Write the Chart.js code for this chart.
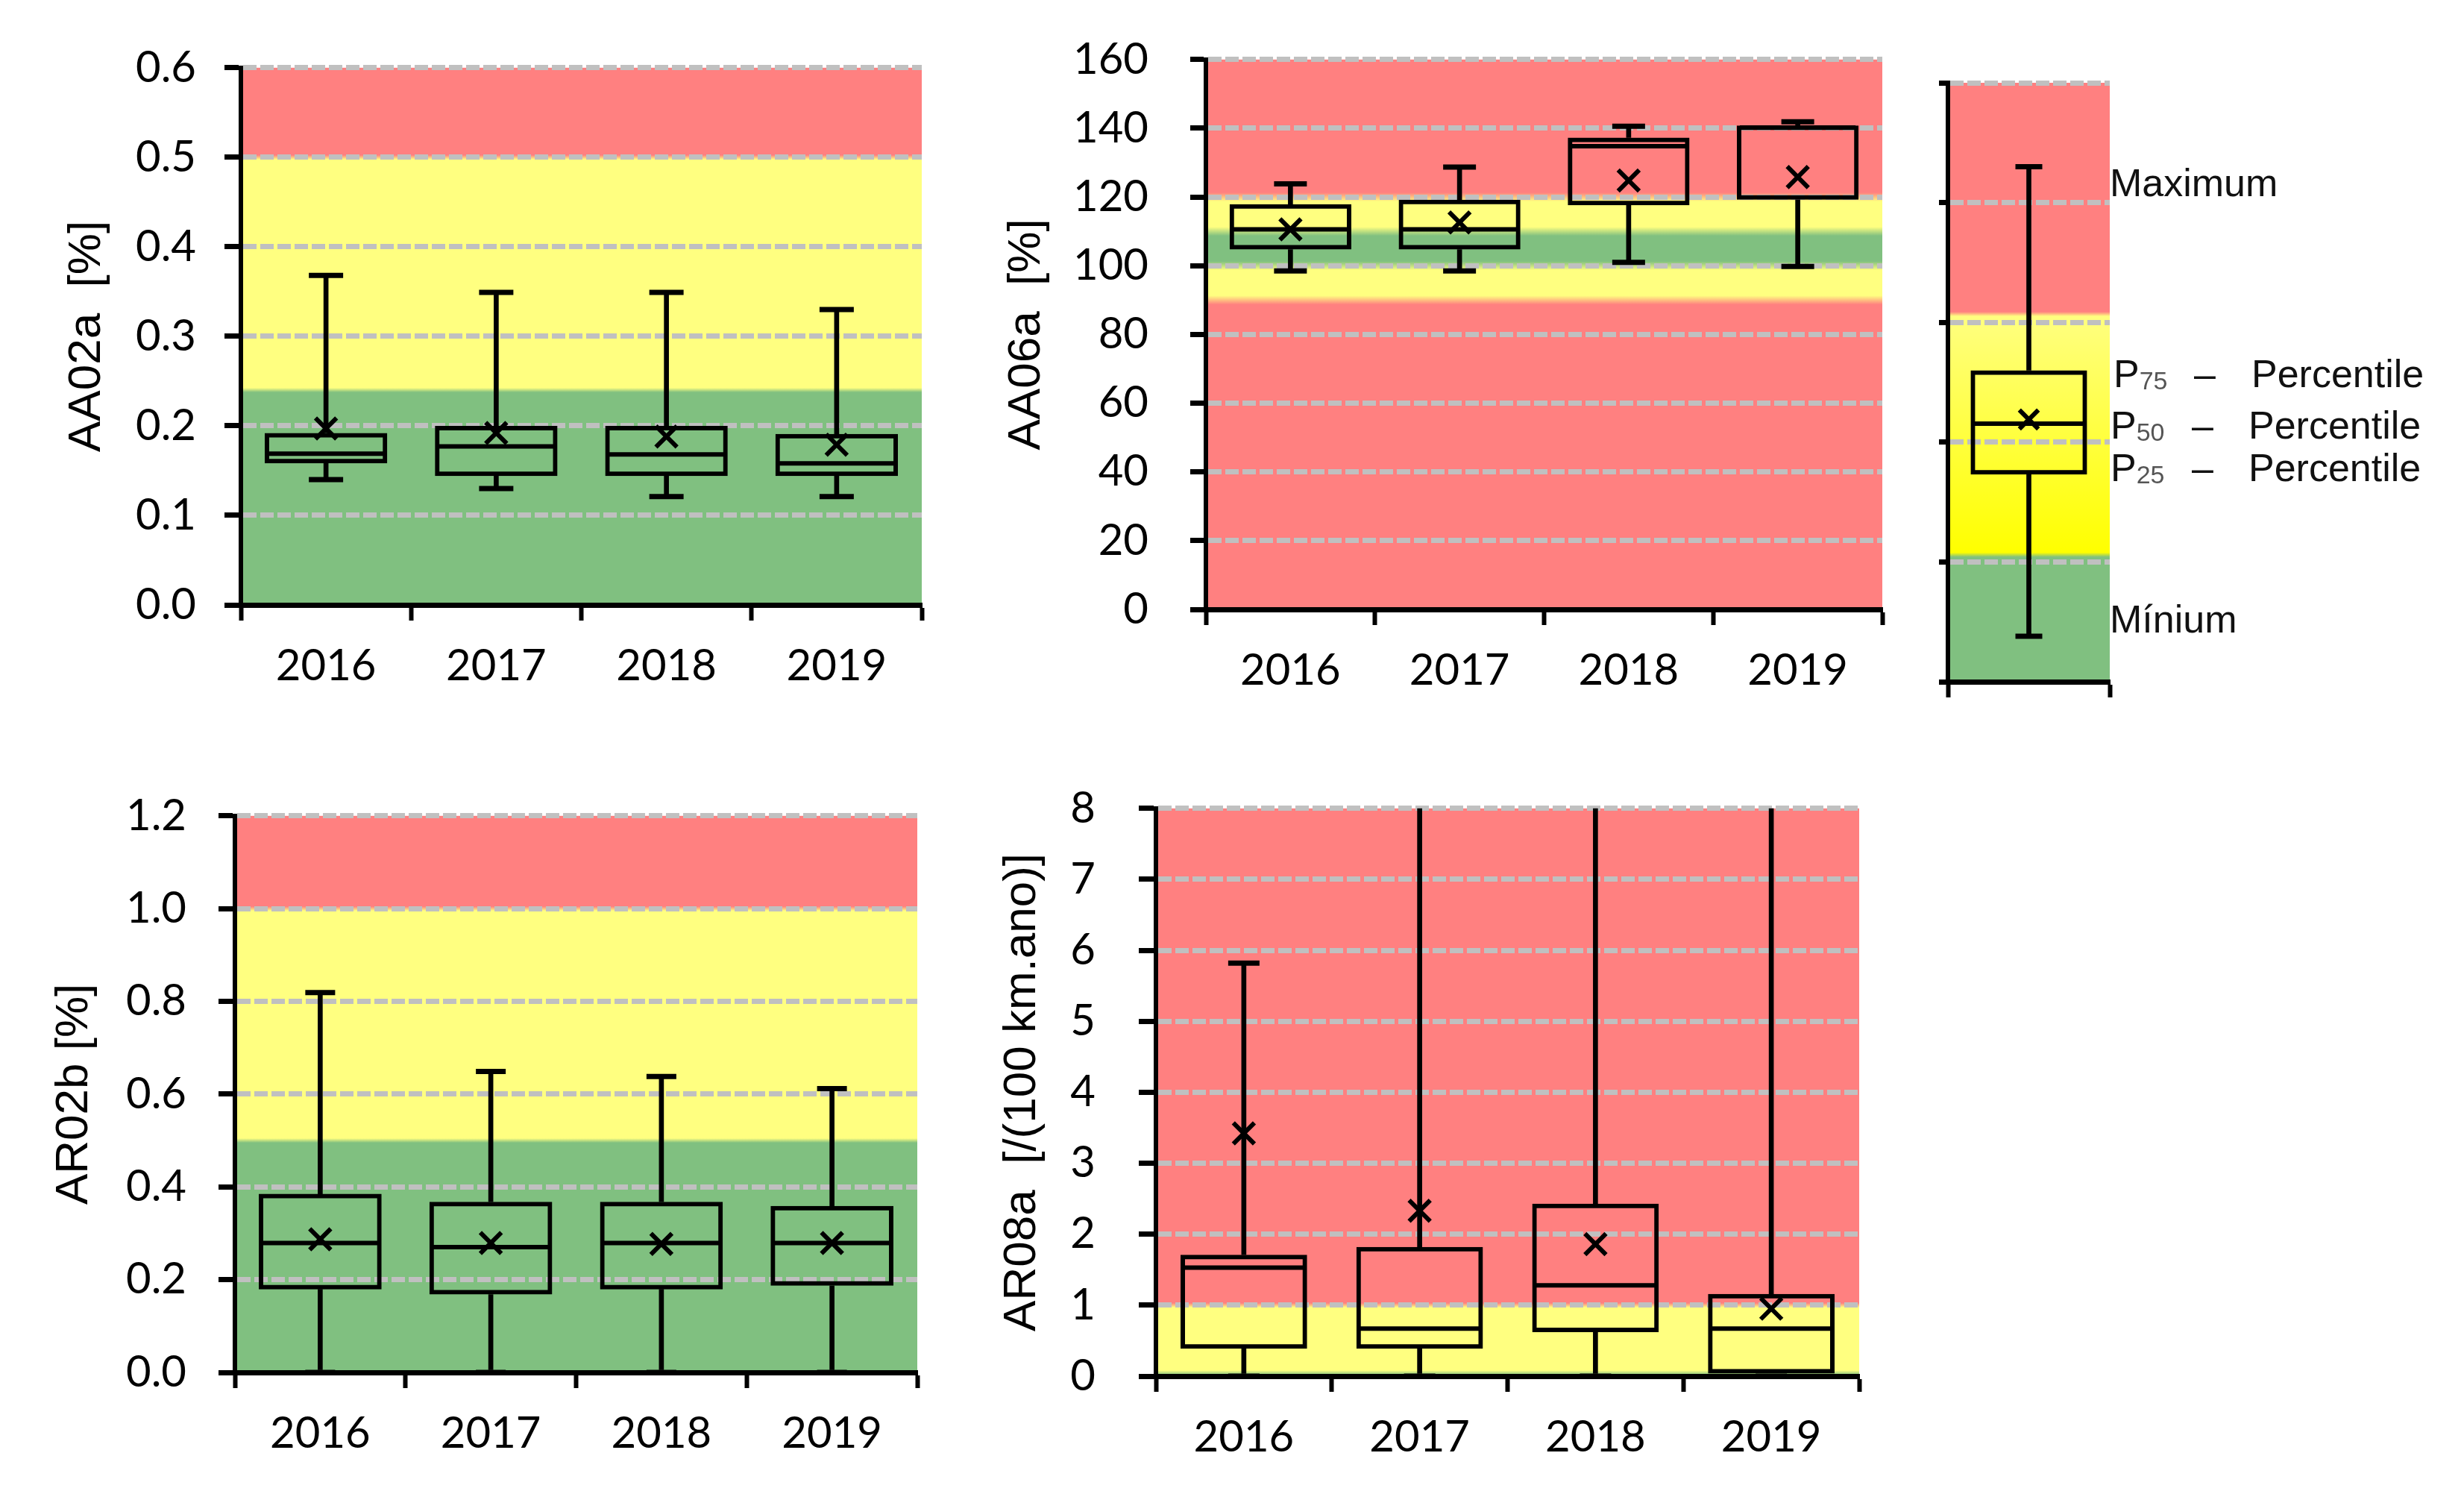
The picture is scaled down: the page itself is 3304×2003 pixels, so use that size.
<!DOCTYPE html>
<html>
<head>
<meta charset="utf-8">
<script src="https://cdn.jsdelivr.net/npm/chart.js@4.4.0/dist/chart.umd.min.js"></script>
<style>
  body { margin: 0; background: #fff; width: 3304px; height: 2003px; position: relative; overflow: hidden; }
  canvas { position: absolute; }
  .lg { position: absolute; font-family: 'Liberation Sans', Arial, sans-serif; font-size: 52px; line-height: 1; color: #111; white-space: nowrap; }
  .lg sub { font-size: 34px; color: #555; vertical-align: baseline; position: relative; top: 3px; }
</style>
</head>
<body>
<canvas id="aa02a"></canvas>
<canvas id="aa06a"></canvas>
<canvas id="legendBox"></canvas>
<canvas id="ar02b"></canvas>
<canvas id="ar08a"></canvas>

<div class="lg" style="left:2829px;top:219px">Maximum</div>
<div class="lg" style="left:2834px;top:475px">P<sub>75</sub></div>
<div class="lg" style="left:2942px;top:475px">–</div>
<div class="lg" style="left:3019px;top:475px">Percentile</div>
<div class="lg" style="left:2830px;top:544px">P<sub>50</sub></div>
<div class="lg" style="left:2939px;top:544px">–</div>
<div class="lg" style="left:3015px;top:544px">Percentile</div>
<div class="lg" style="left:2830px;top:601px">P<sub>25</sub></div>
<div class="lg" style="left:2939px;top:601px">–</div>
<div class="lg" style="left:3015px;top:601px">Percentile</div>
<div class="lg" style="left:2829px;top:804px">Mínium</div>

<script>
const years = ['2016', '2017', '2018', '2019'];

// AA02a [%]
const aa02aMin  = [0.140, 0.130, 0.121, 0.121];
const aa02aQ1   = [0.158, 0.144, 0.144, 0.144];
const aa02aMed  = [0.169, 0.177, 0.168, 0.158];
const aa02aQ3   = [0.192, 0.200, 0.200, 0.191];
const aa02aMax  = [0.368, 0.349, 0.349, 0.330];
const aa02aMean = [0.197, 0.192, 0.188, 0.179];
const aa02aZones = [0, 0.24, 0.5, 0.6];

// AA06a [%]
const aa06aMin  = [98.5, 98.5, 101.0, 99.8];
const aa06aQ1   = [104.7, 104.7, 117.6, 119.2];
const aa06aMed  = [110.6, 110.6, 134.8, 140.2];
const aa06aQ3   = [117.9, 119.2, 137.3, 140.8];
const aa06aMax  = [123.8, 128.7, 140.6, 141.9];
const aa06aMean = [110.6, 112.6, 124.8, 125.8];
const aa06aZones = [0, 90, 100, 110, 120, 160];

// legend box
const legendCat  = [''];
const legendMin  = [0.38];
const legendQ1   = [1.73];
const legendMed  = [2.155];
const legendQ3   = [2.60];
const legendMax  = [4.30];
const legendMean = [2.19];
const legendZones = [0, 1.06, 3.07, 5];

// AR02b [%]
const ar02bMin  = [0, 0, 0, 0];
const ar02bQ1   = [0.179, 0.168, 0.179, 0.187];
const ar02bMed  = [0.279, 0.270, 0.279, 0.279];
const ar02bQ3   = [0.385, 0.368, 0.368, 0.359];
const ar02bMax  = [0.819, 0.649, 0.638, 0.612];
const ar02bMean = [0.287, 0.279, 0.277, 0.279];
const ar02bZones = [0, 0.5, 1.0, 1.2];

// AR08a [/(100 km.ano)]  (upper whiskers of 2017-2019 run off the axis)
const ar08aMin  = [0, 0, 0, 0];
const ar08aQ1   = [0.385, 0.385, 0.62, 0];
const ar08aMed  = [1.53, 0.67, 1.28, 0.67];
const ar08aQ3   = [1.71, 1.82, 2.43, 1.16];
const ar08aMax  = [5.82, 14, 12, 10];
const ar08aMean = [3.42, 2.33, 1.86, 0.95];
const ar08aZones = [0, 0.05, 1, 8];

const RED = '#FF8080', YEL = '#FFFF80', GRN = '#80C080';

// coloured zones behind the grid, soft edges between them
const zonesPlugin = {
  id: 'zones',
  beforeDraw(chart, args, opts) {
    const {ctx, chartArea: a, scales: {y}} = chart;
    const h = a.bottom - a.top;
    const g = ctx.createLinearGradient(0, a.bottom, 0, a.top);
    const off = p => Math.min(1, Math.max(0, (a.bottom - p) / h));
    const n = opts.colors.length;
    for (let i = 0; i < n; i++) {
      const c = opts.colors[i];
      const lo = i === 0 ? 0 : off(y.getPixelForValue(opts.limits[i]) - opts.blend);
      const hi = i === n - 1 ? 1 : off(y.getPixelForValue(opts.limits[i + 1]) + opts.blend);
      g.addColorStop(lo, Array.isArray(c) ? c[0] : c);
      g.addColorStop(hi, Array.isArray(c) ? c[1] : c);
    }
    ctx.save();
    ctx.fillStyle = g;
    ctx.fillRect(a.left, a.top, a.right - a.left, h);
    ctx.restore();
  }
};

function makeBoxChart(id, p) {
  const cv = document.getElementById(id);
  const W = p.frame.left - p.canvasLeft;
  const padTop = 45, padRight = 20, H = 140;
  const pct = 0.72;
  const medR = c => {
    const x = c.chart.scales.x;
    return x.width / p.labels.length * pct / 2 - 4;
  };
  const pts = (data, style, r, w) => ({
    type: 'line', data, showLine: false, pointStyle: style, pointRadius: r,
    pointBorderWidth: w, pointBorderColor: '#000', pointBackgroundColor: '#000',
    pointHoverRadius: r
  });
  const s = p.stats;
  const tickFont = {family: 'Lato', size: 58};

  const config = () => ({
    data: {
      labels: p.labels,
      datasets: [
        pts(s.mean, 'crossRot', p.markR, 6),
        pts(s.med, 'line', medR, 6),
        pts(s.max, 'line', p.capR, 7),
        pts(s.min, 'line', p.capR, 7),
        {type: 'bar', data: s.q1.map((v, i) => [v, s.q3[i]]), backgroundColor: 'rgba(0,0,0,0)',
         borderColor: '#000', borderWidth: 6, borderSkipped: false,
         barPercentage: pct, categoryPercentage: 1, grouped: false, clip: 0},
        {type: 'bar', data: s.q3.map((v, i) => [v, s.max[i]]), backgroundColor: '#000',
         borderWidth: 0, barThickness: 6, grouped: false, clip: 0},
        {type: 'bar', data: s.min.map((v, i) => [v, s.q1[i]]), backgroundColor: '#000',
         borderWidth: 0, barThickness: 6, grouped: false, clip: 0}
      ]
    },
    options: {
      responsive: false,
      maintainAspectRatio: false,
      devicePixelRatio: 1,
      animation: false,
      events: [],
      layout: {padding: {top: padTop, right: padRight, left: 0, bottom: 0}},
      plugins: {
        legend: {display: false},
        tooltip: {enabled: false},
        zones: {limits: p.zones, colors: p.colors, blend: p.blend}
      },
      scales: {
        x: {
          type: 'category',
          offset: true,
          grid: {offset: true, drawOnChartArea: false, drawTicks: true, tickLength: 21,
                 tickColor: '#000', tickWidth: 6},
          border: {color: '#000', width: 7},
          ticks: {font: tickFont, color: '#000', padding: 26, maxRotation: 0},
          afterFit: sc => { sc.height = H; }
        },
        y: {
          min: p.min, max: p.max,
          ticks: {stepSize: p.step, font: tickFont, color: '#000', padding: p.labelPad,
                  callback: p.fmt},
          grid: {color: c => c.tick && c.tick.value === p.min ? 'rgba(0,0,0,0)' : '#C0C0C0',
                 lineWidth: 7, tickColor: '#000', tickWidth: 7, tickLength: p.tickLen,
                 tickBorderDash: []},
          border: {color: '#000', width: 6, dash: [18, 5]},
          title: {display: !!p.title, text: p.title, color: '#000', padding: 0,
                  font: {family: 'Liberation Sans', size: 62}},
          afterFit: sc => { sc.width = W; }
        }
      }
    },
    plugins: [zonesPlugin]
  });

  const wantW = p.frame.right - p.frame.left;
  const wantH = p.frame.bottom - p.frame.top;
  let cw = wantW + W + padRight;
  let ch = wantH + padTop + H;
  cv.width = cw; cv.height = ch;
  let chart = new Chart(cv, config());
  // first pass: see how much room the layout took, then size the canvas so the plot area fits the frame
  const a = chart.chartArea;
  cw += wantW - (a.right - a.left);
  ch += wantH - (a.bottom - a.top);
  chart.destroy();
  cv.width = cw; cv.height = ch;
  chart = new Chart(cv, config());
  cv.style.left = (p.frame.left - chart.chartArea.left) + 'px';
  cv.style.top = (p.frame.top - chart.chartArea.top) + 'px';
  return chart;
}

const one = v => v.toFixed(1);
const int = v => String(v);

makeBoxChart('aa02a', {
  frame: {left: 323, top: 91, right: 1236, bottom: 812}, canvasLeft: 80,
  labels: years, title: 'AA02a  [%]', min: 0, max: 0.6, step: 0.1, fmt: one,
  labelPad: 38, tickLen: 22, capR: 23, markR: 20,
  stats: {min: aa02aMin, q1: aa02aQ1, med: aa02aMed, q3: aa02aQ3, max: aa02aMax, mean: aa02aMean},
  zones: aa02aZones, colors: [GRN, YEL, RED], blend: 3
});

makeBoxChart('aa06a', {
  frame: {left: 1617, top: 80, right: 2524, bottom: 818}, canvasLeft: 1340,
  labels: years, title: 'AA06a  [%]', min: 0, max: 160, step: 20, fmt: int,
  labelPad: 56, tickLen: 21, capR: 22, markR: 20,
  stats: {min: aa06aMin, q1: aa06aQ1, med: aa06aMed, q3: aa06aQ3, max: aa06aMax, mean: aa06aMean},
  zones: aa06aZones, colors: [RED, YEL, GRN, YEL, RED], blend: 6
});

makeBoxChart('legendBox', {
  frame: {left: 2612, top: 111, right: 2829, bottom: 914}, canvasLeft: 2592,
  labels: legendCat, title: '', min: 0, max: 5, step: 1, fmt: () => '',
  labelPad: 0, tickLen: 12, capR: 18, markR: 18,
  stats: {min: legendMin, q1: legendQ1, med: legendMed, q3: legendQ3, max: legendMax, mean: legendMean},
  zones: legendZones, colors: [GRN, ['#FFFF00', YEL], RED], blend: 3
});

makeBoxChart('ar02b', {
  frame: {left: 315, top: 1094, right: 1230, bottom: 1841}, canvasLeft: 63,
  labels: years, title: 'AR02b [%]', min: 0, max: 1.2, step: 0.2, fmt: one,
  labelPad: 43, tickLen: 22, capR: 20, markR: 20,
  stats: {min: ar02bMin, q1: ar02bQ1, med: ar02bMed, q3: ar02bQ3, max: ar02bMax, mean: ar02bMean},
  zones: ar02bZones, colors: [GRN, YEL, RED], blend: 3
});

makeBoxChart('ar08a', {
  frame: {left: 1550, top: 1084, right: 2493, bottom: 1846}, canvasLeft: 1334,
  labels: years, title: 'AR08a  [/(100 km.ano)]', min: 0, max: 8, step: 1, fmt: int,
  labelPad: 58, tickLen: 23, capR: 21, markR: 20,
  stats: {min: ar08aMin, q1: ar08aQ1, med: ar08aMed, q3: ar08aQ3, max: ar08aMax, mean: ar08aMean},
  zones: ar08aZones, colors: [GRN, YEL, RED], blend: 3
});
</script>
</body>
</html>
